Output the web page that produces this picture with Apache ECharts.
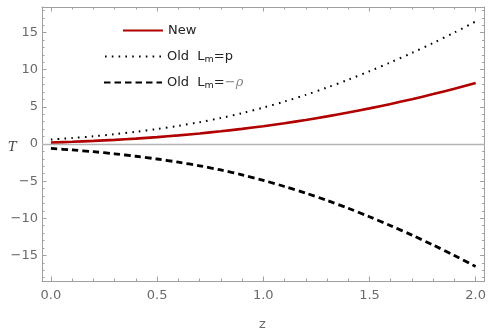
<!DOCTYPE html>
<html><head><meta charset="utf-8">
<script src="https://cdn.jsdelivr.net/npm/echarts@6/dist/echarts.min.js"></script>
<style>html,body{margin:0;padding:0;background:#fff}#c{width:489px;height:333px}</style>
</head><body><div id="c"></div>
<script>
const zValues = [0,0.1,0.2,0.3,0.4,0.5,0.6,0.7,0.8,0.9,1.0,1.1,1.2,1.3,1.4,1.5,1.6,1.7,1.8,1.9,2.0];
const newT   = [0.2,0.3,0.42,0.56,0.73,0.93,1.16,1.42,1.71,2.04,2.4,2.8,3.24,3.72,4.24,4.8,5.4,6.04,6.72,7.44,8.2];
const oldP   = [0.6,0.8,1.04,1.32,1.65,2.02,2.45,2.94,3.5,4.15,4.9,5.72,6.62,7.6,8.66,9.8,11.0,12.27,13.61,15.02,16.5];
const oldRho = [-0.6,-0.8,-1.04,-1.32,-1.65,-2.02,-2.45,-2.94,-3.5,-4.15,-4.9,-5.72,-6.62,-7.6,-8.66,-9.8,-11.0,-12.27,-13.61,-15.02,-16.5];
const xTickLabels = [0,0.5,1,1.5,2];
const xMinorTicks = [0,0.1,0.2,0.3,0.4,0.5,0.6,0.7,0.8,0.9,1,1.1,1.2,1.3,1.4,1.5,1.6,1.7,1.8,1.9,2];
const yTickLabels = [-15,-10,-5,0,5,10,15];
const yMinorTicks = [-18,-17,-16,-15,-14,-13,-12,-11,-10,-9,-8,-7,-6,-5,-4,-3,-2,-1,0,1,2,3,4,5,6,7,8,9,10,11,12,13,14,15,16,17,18];

const X_MIN=-0.042, X_MAX=2.042, Y_MIN=-18.45, Y_MAX=18.45;
const frameColor='#a0a0a0', labelColor='#6a6a6a';
const font='DejaVu Sans';

function pair(arr){return zValues.map((z,i)=>[z,arr[i]]);}

function xAxisDef(pos, major, showLabel, show){
  return {type:'value', position:pos, min:X_MIN, max:X_MAX,
    axisLine:{show:show, onZero:false, lineStyle:{color:frameColor,width:1}},
    splitLine:{show:false},
    axisTick:{show:true, inside:true, length: major?4.5:2.5, customValues: major?xTickLabels:xMinorTicks, lineStyle:{color:frameColor}},
    axisLabel:{show:showLabel, customValues:xTickLabels, formatter:v=>Number(v).toFixed(1), color:labelColor, fontFamily:font, fontSize:13, margin:8},
  };
}
function yAxisDef(pos, major, showLabel, show){
  return {type:'value', position:pos, min:Y_MIN, max:Y_MAX,
    axisLine:{show:show, onZero:false, lineStyle:{color:frameColor,width:1}},
    splitLine:{show:false},
    axisTick:{show:true, inside:true, length: major?4.5:2.5, customValues: major?yTickLabels:yMinorTicks, lineStyle:{color:frameColor}},
    axisLabel:{show:showLabel, customValues:yTickLabels, formatter:v=>String(v).replace('-','\u2212'), color:labelColor, fontFamily:font, fontSize:13, margin:4},
  };
}

const legendRich = {
  a:{fontFamily:font,fontSize:13,color:'#222'},
  s:{fontFamily:font,fontSize:9.5,color:'#222',verticalAlign:'bottom',padding:[7,0,0,0]},
  r:{fontFamily:'DejaVu Serif',fontStyle:'italic',fontSize:13,color:'#888'},
  g:{fontFamily:font,fontSize:13,color:'#888'}
};
const legendCommon = {padding:0, itemHeight:10, itemGap:0, textStyle:{rich:legendRich}, itemStyle:{opacity:0}};

const chart = echarts.init(document.getElementById('c'), null, {renderer:'canvas'});
chart.setOption({
  animation:false,
  grid:{left:42,right:4,top:7,bottom:52,containLabel:false},
  xAxis:[xAxisDef('bottom',true,true,true), xAxisDef('bottom',false,false,false), xAxisDef('top',true,false,true), xAxisDef('top',false,false,false)],
  yAxis:[yAxisDef('left',true,true,true), yAxisDef('left',false,false,false), yAxisDef('right',true,false,true), yAxisDef('right',false,false,false)],
  legend:[
    Object.assign({data:['New'], left:122, top:24, itemWidth:40, formatter:()=>'{a|New}'}, legendCommon),
    Object.assign({data:['Old Lm=p'], left:104, top:50, itemWidth:57, formatter:()=>'{a|Old  L}{s|m}{a|=p}'}, legendCommon),
    Object.assign({data:['Old Lm=-rho'], left:103, top:76, itemWidth:58, formatter:()=>'{a|Old  L}{s|m}{a|=}{g|\u2212}{r|\u03c1}'}, legendCommon)
  ],
  graphic:[
    {type:'text', left:259, top:318, style:{text:'z', fontFamily:font, fontSize:13, fill:labelColor}},
    {type:'text', left:8, top:141, style:{text:'T', fontFamily:'DejaVu Serif', fontStyle:'italic', fontSize:13, fill:'#444'}}
  ],
  series:[
    {name:'zero', type:'line', data:[], silent:true, symbol:'none',
      markLine:{silent:true, symbol:'none', label:{show:false}, lineStyle:{color:'#b4b4b4', width:1.3, type:'solid'}, data:[{yAxis:0}]}},
    {name:'New', type:'line', data:pair(newT), symbol:'none', smooth:0.3, z:5,
      lineStyle:{color:'#b00000', width:2.6}, itemStyle:{color:'#b00000'}},
    {name:'Old Lm=p', type:'line', data:pair(oldP), symbol:'none', smooth:0.3,
      lineStyle:{color:'#000', width:2, type:[1.6,5.2], cap:'butt'}, itemStyle:{color:'#000'}},
    {name:'Old Lm=-rho', type:'line', data:pair(oldRho), symbol:'none', smooth:0.3,
      lineStyle:{color:'#000', width:2.8, type:[6.5,4], cap:'butt'}, itemStyle:{color:'#000'}}
  ]
});
</script></body></html>
